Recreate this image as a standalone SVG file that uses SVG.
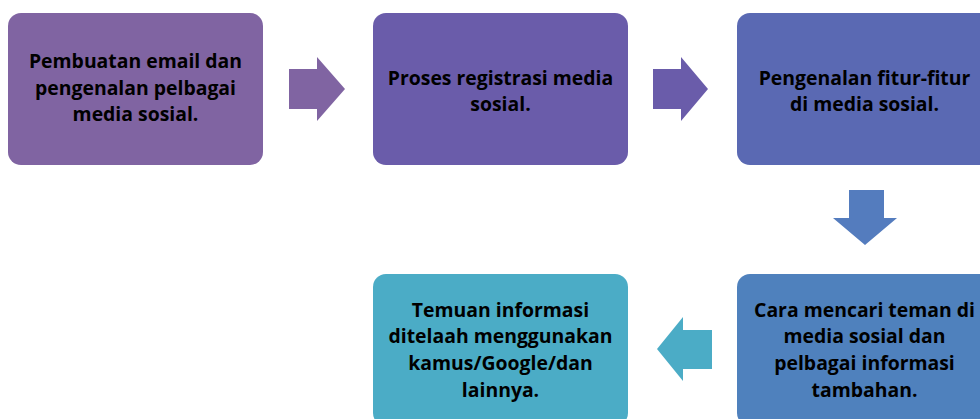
<svg xmlns="http://www.w3.org/2000/svg" width="980" height="419" viewBox="0 0 980 419">
<style>
.box{stroke:none}
.t{font-family:"Open Sans",Lato,"Liberation Sans",sans-serif;font-weight:bold;font-size:19.4px;fill:#000;text-anchor:middle}
</style>
<rect width="980" height="419" fill="#ffffff"/>
<g id="connectors">
<polygon points="289,69 317,69 317,57 345,89 317,121 317,109 289,109" fill="#8064A2"/>
<polygon points="653,69 681,69 681,57 708,89 681,121 681,109 653,109" fill="#6A5CAA"/>
<polygon points="849,190 884,190 884,218 897,218 865,245 833,218 849,218" fill="#547CBE"/>
<polygon points="712,330 683,330 683,317 657,349 683,381 683,369 712,369" fill="#4BACC6"/>
</g>
<g id="n1">
<rect class="box" x="8" y="13" width="255" height="152" rx="13" fill="#8064A2"/>
<text class="t"><tspan x="135.5" y="68">Pembuatan email dan</tspan><tspan x="135.5" y="94.7">pengenalan pelbagai</tspan><tspan x="135.5" y="121.4">media sosial.</tspan></text>
</g>
<g id="n2">
<rect class="box" x="373" y="13" width="255" height="152" rx="13" fill="#6A5CAA"/>
<text class="t"><tspan x="500.5" y="84.5">Proses registrasi media</tspan><tspan x="500.5" y="111.2">sosial.</tspan></text>
</g>
<g id="n3">
<rect class="box" x="737" y="13" width="255" height="152" rx="13" fill="#5A69B3"/>
<text class="t"><tspan x="864.5" y="84.5">Pengenalan fitur-fitur</tspan><tspan x="864.5" y="111.2">di media sosial.</tspan></text>
</g>
<g id="n4">
<rect class="box" x="737" y="274" width="255" height="152" rx="13" fill="#4F81BD"/>
<text class="t"><tspan x="864.5" y="316.5">Cara mencari teman di</tspan><tspan x="864.5" y="343.2">media sosial dan</tspan><tspan x="864.5" y="369.9">pelbagai informasi</tspan><tspan x="864.5" y="396.6">tambahan.</tspan></text>
</g>
<g id="n5">
<rect class="box" x="373" y="274" width="255" height="152" rx="13" fill="#4BACC6"/>
<text class="t"><tspan x="500.5" y="316.5">Temuan informasi</tspan><tspan x="500.5" y="343.2">ditelaah menggunakan</tspan><tspan x="500.5" y="369.9">kamus/Google/dan</tspan><tspan x="500.5" y="396.6">lainnya.</tspan></text>
</g>
</svg>
